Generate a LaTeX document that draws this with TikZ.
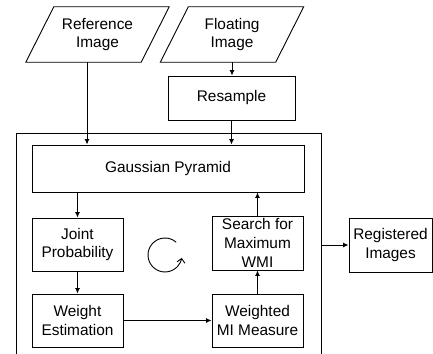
\documentclass[tikz,border=0pt]{standalone}
\usepackage{fontspec}
\setmainfont{Liberation Sans}
\usetikzlibrary{arrows.meta}
\begin{document}
\begin{tikzpicture}[x=1pt,y=-1pt,
  lbl/.style={font=\fontsize{15.4}{18.8}\selectfont, align=center, inner sep=0pt},
  box/.style={lbl, draw, line width=0.9pt},
  para/.style={lbl, minimum width=115pt, minimum height=55pt},
  arr/.style={line width=0.9pt, -{Latex[length=5.5pt,width=5pt]}}]
\useasboundingbox (0,0) rectangle (433,353);
\clip (0,0) rectangle (433,353);
% outer container
\node[draw, line width=0.9pt, minimum width=305pt, minimum height=250pt, inner sep=0pt] (outer) at (168.5,258) {};
% inputs
\node[para] (ref) at (97.5,34.5) {Reference\\Image};
\draw[line width=0.9pt] ([xshift=-14pt]ref.south west) -- ([xshift=-14pt]ref.south east)
  -- ([xshift=14pt]ref.north east) -- ([xshift=14pt]ref.north west) -- cycle;
\node[para] (flt) at (232,34.5) {Floating\\Image};
\draw[line width=0.9pt] ([xshift=-14pt]flt.south west) -- ([xshift=-14pt]flt.south east)
  -- ([xshift=14pt]flt.north east) -- ([xshift=14pt]flt.north west) -- cycle;
\node[box, minimum width=127pt, minimum height=44pt] (res) at (231.5,98) {Resample};
\node[box, minimum width=272pt, minimum height=47pt] (gp) at (168,168.5) {Gaussian Pyramid};
\node[box, minimum width=91pt, minimum height=53pt] (jp) at (77.5,244.5) {Joint\\Probability};
\node[box, minimum width=91pt, minimum height=53pt] (we) at (77.5,320.5) {Weight\\Estimation};
\node[box, minimum width=91pt, minimum height=53pt] (wmi) at (257.5,320.5) {Weighted\\MI Measure};
\node[box, minimum width=91pt, minimum height=54pt] (srch) at (257.5,243) {Search for\\Maximum\\WMI};
\node[box, minimum width=83pt, minimum height=54pt] (reg) at (390.5,245) {Registered\\Images};
% connectors
\draw[arr] ([xshift=-10.5pt]ref.south) -- ([xshift=-10.5pt]ref.south |- gp.north);
\draw[arr] (flt.south) -- (flt.south |- res.north);
\draw[arr] (res.south) -- (res.south |- gp.north);
\draw[arr] (gp.south -| jp.north) -- (jp.north);
\draw[arr] (jp) -- (we);
\draw[arr] (we) -- (wmi);
\draw[arr] (wmi) -- (srch);
\draw[arr] (srch.north) -- (srch.north |- gp.south);
\draw[arr] (outer.east |- reg.west) -- (reg.west);
% loop symbol
\coordinate (loopc) at (165,255);
\draw[line width=0.9pt, -{Straight Barb[length=4pt,width=8pt]}] (loopc) ++(49:17pt) arc[start angle=49, end angle=350, radius=17pt];
\end{tikzpicture}
\end{document}
